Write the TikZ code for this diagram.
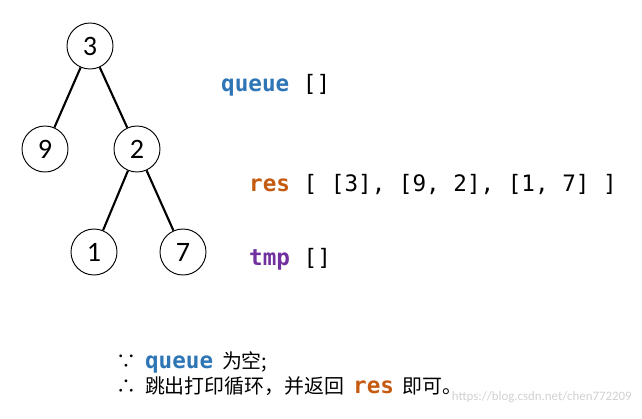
\documentclass[tikz,border=0pt]{standalone}
\usepackage{fontspec}
\setmainfont{Carlito}
\newfontfamily\monof{DejaVu Sans Mono}
\newfontfamily\cjk{Noto Sans CJK SC}
\definecolor{qblue}{HTML}{2E75B6}
\definecolor{rorange}{HTML}{C55A11}
\definecolor{tpurple}{HTML}{7030A0}
\begin{document}
\begin{tikzpicture}[x=0.03cm,y=-0.03cm,
  tnode/.style={circle,draw,thick,minimum size=46*0.03cm,inner sep=0pt,font=\fontsize{24}{24}\selectfont},
  edge/.style={line width=1.8pt},
  code/.style={anchor=west,inner sep=0pt,font=\monof\fontsize{19.3}{20}\selectfont},
  note/.style={anchor=west,inner sep=0pt,font=\fontsize{17}{20}\selectfont}]
\useasboundingbox (0,0) rectangle (642,418);
\node[tnode] (n3) at (90,46) {3};
\node[tnode] (n9) at (45,149) {9};
\node[tnode] (n2) at (137,149) {2};
\node[tnode] (n1) at (94,252) {1};
\node[tnode] (n7) at (183,252) {7};
\draw[edge] (n3) -- (n9);
\draw[edge] (n3) -- (n2);
\draw[edge] (n2) -- (n1);
\draw[edge] (n2) -- (n7);
\node[code] (q) at (221,85) {\textcolor{qblue}{\bfseries queue} []};
\node[code] (r) at (249,184) {\textcolor{rorange}{\bfseries res} [ [3], [9, 2], [1, 7] ]};
\node[code] (t) at (249,259) {\textcolor{tpurple}{\bfseries tmp} []};
\node[note] (l1) at (116,362) {\cjk ∵\ \ {\monof\fontsize{19.3}{20}\selectfont\bfseries\textcolor{qblue}{queue}}\ \ 为空;};
\node[note] (l2) at (116,386) {\cjk ∴\ \ 跳出打印循环，并返回\ \ {\monof\fontsize{19.3}{20}\selectfont\bfseries\textcolor{rorange}{res}}\ \ 即可。};
\node[anchor=east,inner sep=0pt,text=black!18,font=\fontsize{11}{12}\selectfont] (wm) at (632,397) {https://blog.csdn.net/chen772209};
\end{tikzpicture}
\end{document}
